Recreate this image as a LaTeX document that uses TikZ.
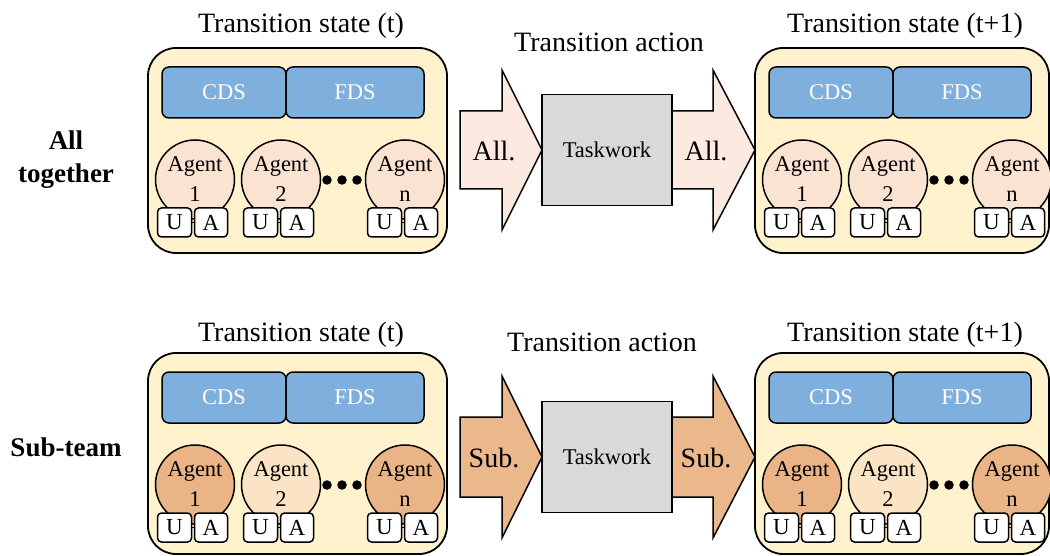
\documentclass[tikz,border=0pt]{standalone}
\usepackage{fontspec}
\setmainfont{Liberation Serif}
\definecolor{panelfill}{HTML}{FFF2CC}
\definecolor{dsblue}{HTML}{7FAFDD}
\definecolor{agentlight}{HTML}{FBE3D2}
\definecolor{agentpale}{HTML}{FBE3C6}
\definecolor{agentdark}{HTML}{EAB486}
\definecolor{arrowlight}{HTML}{FCE9E0}
\definecolor{arrowdark}{HTML}{EAB88A}
\definecolor{taskgray}{HTML}{D9D9D9}
\tikzset{
  panelbox/.style={draw, line width=1.8pt, fill=panelfill, rounded corners=28pt, inner sep=0pt},
  dsbox/.style={draw, line width=1.5pt, fill=dsblue, rounded corners=7pt, text=white,
    font=\fontsize{22.5}{27}\selectfont, inner sep=0pt, minimum height=51pt},
  agentnode/.style={draw, circle, line width=1.5pt, minimum size=79pt, inner sep=0pt,
    align=center, font=\fontsize{22.5}{30}\selectfont},
  uabox/.style={draw, line width=1.5pt, fill=white, rounded corners=4pt, minimum height=29pt,
    inner sep=0pt, font=\fontsize{23}{27}\selectfont},
  dotnode/.style={circle, fill=black, inner sep=0pt, minimum size=9.5pt},
  titletext/.style={anchor=base, inner sep=0pt, font=\fontsize{28}{33}\selectfont},
  sidelabel/.style={inner sep=0pt, align=center, font=\fontsize{27}{33}\selectfont\bfseries},
  arrowtext/.style={inner sep=0pt, font=\fontsize{28}{33}\selectfont},
  taskbox/.style={draw, line width=1.5pt, fill=taskgray, inner sep=0pt,
    font=\fontsize{22.5}{27}\selectfont},
  blockarrow/.style={draw, line width=1.5pt, line join=miter}
}
% #1 prefix, #2 x0, #3 y0, #4 W, #5 H, #6 agent1 colour, #7 agent2 colour, #8 agentn colour
\newcommand\statepanel[8]{%
  \node[panelbox, minimum width=#4pt, minimum height=#5pt] (#1p) at ({#2+#4/2},{#3+#5/2}) {};
  \node[dsbox, minimum width=124pt] (#1cds) at ({#2+76},{#3+44.5}) {CDS};
  \node[dsbox, minimum width=138pt] (#1fds) at ({#2+207},{#3+44.5}) {FDS};
  \node[agentnode, fill=#6] (#1a1) at ({#2+47},{#3+131.5}) {Agent\\1};
  \node[agentnode, fill=#7] (#1a2) at ({#2+133},{#3+131.5}) {Agent\\2};
  \node[agentnode, fill=#8] (#1an) at ({#2+257},{#3+131.5}) {Agent\\n};
  \node[uabox, minimum width=34pt] (#1u1) at ({#2+26.5},{#3+174.5}) {U};
  \node[uabox, minimum width=33pt] (#1x1) at ({#2+63},{#3+174.5}) {A};
  \node[uabox, minimum width=34pt] (#1u2) at ({#2+112.5},{#3+174.5}) {U};
  \node[uabox, minimum width=33pt] (#1x2) at ({#2+149},{#3+174.5}) {A};
  \node[uabox, minimum width=34pt] (#1un) at ({#2+236.5},{#3+174.5}) {U};
  \node[uabox, minimum width=33pt] (#1xn) at ({#2+273},{#3+174.5}) {A};
  \draw[line width=1.5pt] (#1u1.east) -- (#1x1.west);
  \draw[line width=1.5pt] (#1u2.east) -- (#1x2.west);
  \draw[line width=1.5pt] (#1un.east) -- (#1xn.west);
  \node[dotnode] (#1d1) at ({#2+179},{#3+132}) {};
  \node[dotnode] (#1d2) at ({#2+194},{#3+132}) {};
  \node[dotnode] (#1d3) at ({#2+209},{#3+132}) {};
}
% #1 prefix, #2 tip y, #3 colour, #4 label, #5 half head, #6 half shaft
\newcommand\actionrow[6]{%
  \draw[blockarrow, fill=#3] (460,{#2-#6}) -- (502,{#2-#6}) -- (502,{#2-#5}) -- (542,#2)
     -- (502,{#2+#5}) -- (502,{#2+#6}) -- (460,{#2+#6}) -- cycle;
  \draw[blockarrow, fill=#3] (672,{#2-#6}) -- (713,{#2-#6}) -- (713,{#2-#5}) -- (755,#2)
     -- (713,{#2+#5}) -- (713,{#2+#6}) -- (672,{#2+#6}) -- cycle;
  \node[taskbox, minimum width=130pt, minimum height=111pt] (#1task) at (607,#2) {Taskwork};
  \node[arrowtext] (#1lin) at (494,{#2+1}) {#4};
  \node[arrowtext] (#1lout) at (706,{#2+1}) {#4};
}
\begin{document}
\begin{tikzpicture}[x=1pt,y=-1pt]
\useasboundingbox (0,0) rectangle (1050,556);
% ---- top row
\node[titletext] (t1) at (301,33) {Transition state (t)};
\node[titletext] (t2) at (609,52) {Transition action};
\node[titletext] (t3) at (905,33) {Transition state (t+1)};
\node[sidelabel] (lab1) at (66,160) {All\\together};
\statepanel{A}{148}{48}{299}{205}{agentlight}{agentlight}{agentlight}
\actionrow{A}{150}{arrowlight}{All.}{80}{39}
\statepanel{B}{755}{48}{294}{205}{agentlight}{agentlight}{agentlight}
% ---- bottom row
\node[titletext] (t4) at (301,341) {Transition state (t)};
\node[titletext] (t5) at (602,351) {Transition action};
\node[titletext] (t6) at (905,341) {Transition state (t+1)};
\node[sidelabel] (lab2) at (66,447) {Sub-team};
\statepanel{C}{148}{353}{299}{201}{agentdark}{agentpale}{agentdark}
\actionrow{C}{457}{arrowdark}{Sub.}{81}{40}
\statepanel{D}{755}{353}{294}{201}{agentdark}{agentpale}{agentdark}
\end{tikzpicture}
\end{document}
